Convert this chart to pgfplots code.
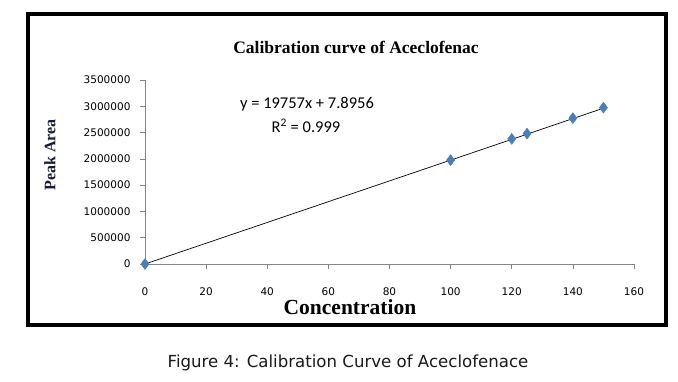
\documentclass[border=0pt]{standalone}
\usepackage{pgfplots}
\pgfplotsset{compat=1.18}
\usepackage{fontspec}
\setmainfont{Liberation Serif}
\newfontfamily\dejavu{DejaVu Sans}
\newfontfamily\carlito{Carlito}
\definecolor{mk}{HTML}{4A7EBB}
\definecolor{axgray}{HTML}{868686}
\definecolor{ylab}{HTML}{141C38}
\begin{document}
\begin{tikzpicture}
\path[use as bounding box] (-145bp,-118bp) rectangle (533bp,264bp);
\draw[line width=3.5bp] (-117bp,-61bp) rectangle (521bp,250bp);
\begin{axis}[
  at={(0,0)}, anchor=south west,
  scale only axis, width=489bp, height=184bp,
  xmin=0, xmax=160, ymin=0, ymax=3500000,
  axis x line=bottom, axis y line=left,
  axis line style={axgray, -},
  xtick={0,20,...,160},
  ytick={0,500000,...,3500000},
  tick style={axgray, line width=0.6pt},
  tick align=outside,
  major tick length=5bp,
  scaled y ticks=false,
  /pgf/number format/assume math mode=true,
  yticklabel style={/pgf/number format/fixed, /pgf/number format/1000 sep={}, font=\dejavu\fontsize{10.5bp}{12bp}\selectfont, xshift=-6bp},
  xticklabel style={font=\dejavu\fontsize{10.5bp}{12bp}\selectfont, yshift=-15bp},
  clip=false,
]
\addplot[black, line width=0.7pt, no marks] coordinates {(0,7.8956) (150,2963558)};
\addplot[only marks, mark=diamond*, mark size=5.5bp, mark options={fill=mk, draw=mk}] coordinates {
(0,0) (100,1976000) (120,2380000) (125,2480000) (140,2775000) (150,2975000)};
\end{axis}
\node[font=\bfseries\fontsize{17.5bp}{20bp}\selectfont] at (211bp,217bp) {Calibration curve of Aceclofenac};
\node[font=\bfseries\fontsize{16bp}{18bp}\selectfont, rotate=90, text=ylab] at (-95bp,109bp) {Peak Area};
\node[font=\bfseries\fontsize{21.5bp}{24bp}\selectfont] at (205bp,-43bp) {Concentration};
\node[font=\carlito\fontsize{16.5bp}{18bp}\selectfont] at (162bp,160bp) {y = 19757x + 7.8956};
\node[font=\carlito\fontsize{16.5bp}{18bp}\selectfont] at (161bp,138bp) {R\textsuperscript{2} = 0.999};
\node[font=\dejavu\fontsize{16.6bp}{18bp}\selectfont, text=black!90] at (203bp,-99bp) {Figure 4: Calibration Curve of Aceclofenace};
\end{tikzpicture}
\end{document}
